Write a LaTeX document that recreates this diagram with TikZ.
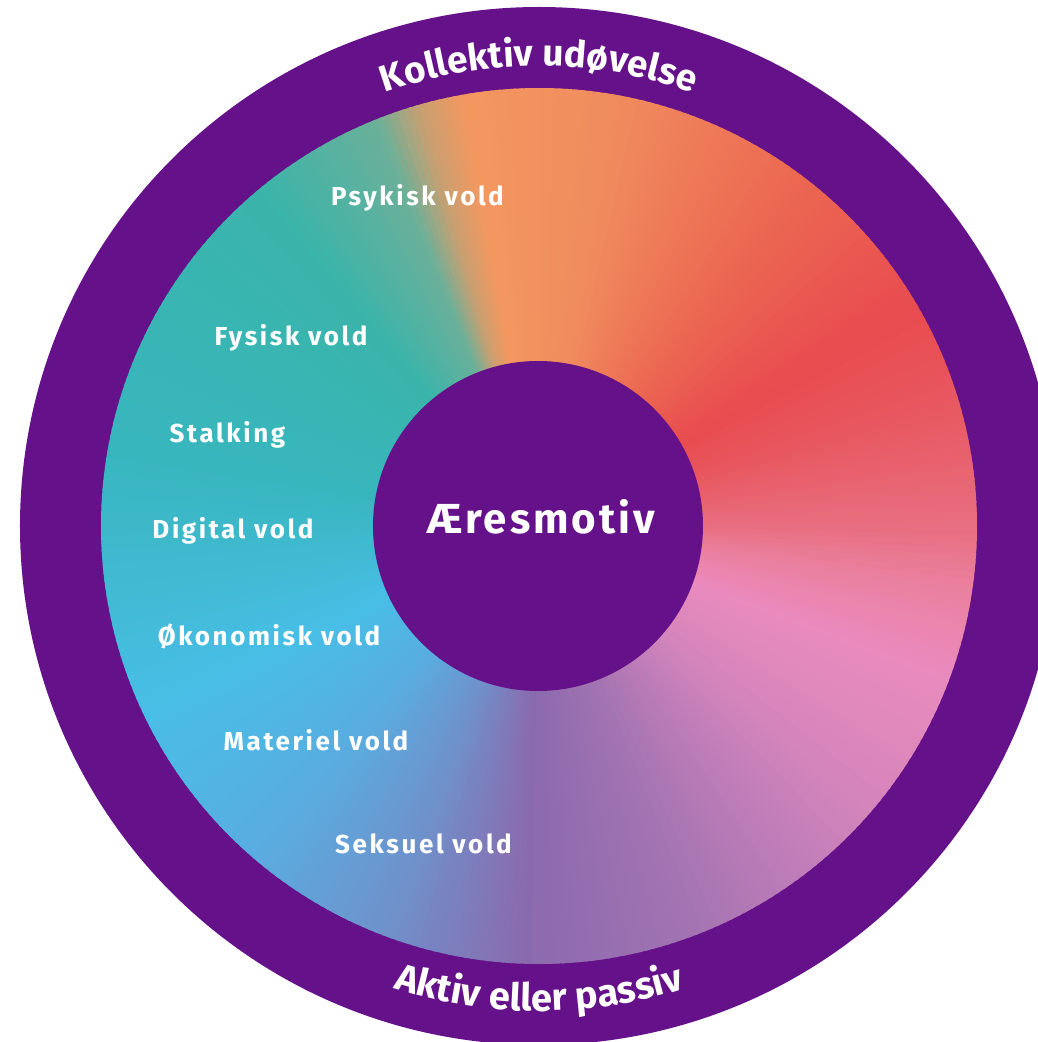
\documentclass[tikz,border=0pt]{standalone}
\usepackage{fontspec}
\setmainfont{Fira Sans}
\newfontfamily\labelfont[LetterSpace=10]{Fira Sans}
\newfontfamily\titlefont[LetterSpace=7]{Fira Sans}
\usetikzlibrary{decorations.text}
\definecolor{ringpurple}{HTML}{651189}
\definecolor{g0}{HTML}{E86E80}
\definecolor{g1}{HTML}{E85A62}
\definecolor{g2}{HTML}{E84B4F}
\definecolor{g3}{HTML}{EC6A52}
\definecolor{g4}{HTML}{F08C5E}
\definecolor{g5}{HTML}{F3975F}
\definecolor{g6}{HTML}{C8A072}
\definecolor{g7}{HTML}{6AB09A}
\definecolor{g8}{HTML}{3AB4AA}
\definecolor{g9}{HTML}{38B6BE}
\definecolor{g10}{HTML}{48BEE6}
\definecolor{g11}{HTML}{5AACE0}
\definecolor{g12}{HTML}{7090CA}
\definecolor{g13}{HTML}{8A6AAE}
\definecolor{g14}{HTML}{A273B2}
\definecolor{g15}{HTML}{D585BC}
\definecolor{g16}{HTML}{EA8BBD}
\definecolor{g17}{HTML}{EA7F9E}
\tikzset{
  vlabel/.style={anchor=base, text=white, font=\labelfont\bfseries\fontsize{26}{30}\selectfont, inner sep=0pt},
  centerlabel/.style={anchor=base, text=white, font=\titlefont\bfseries\fontsize{42}{48}\selectfont, inner sep=0pt},
  ringtext/.style 2 args={decorate, decoration={text along path, text align=center,
     text={|\bfseries\fontsize{#1}{40}\selectfont\color{white}|#2}}}
}
\begin{document}
\begin{tikzpicture}
\fill[white] (-539pt,-516pt) rectangle (499pt,526pt);
\useasboundingbox (-539pt,-516pt) rectangle (499pt,526pt);
\clip (-539pt,-516pt) rectangle (499pt,526pt);
\node[circle, fill=ringpurple, minimum size=1038pt, inner sep=0pt] (outer) at (0,0) {};
% conic gradient ring
\foreach \a/\b/\ca/\cb in {0/15/g0/g1, 15/30/g1/g2, 30/55/g2/g3, 55/80/g3/g4, 80/100/g4/g5,
  100/106/g5/g6, 106/112/g6/g7, 112/130/g7/g8, 130/170/g8/g9, 170/205/g9/g10,
  205/230/g10/g11, 230/250/g11/g12, 250/268/g12/g13, 268/290/g13/g14, 290/320/g14/g15,
  320/340/g15/g16, 340/352/g16/g17, 352/360/g17/g0}{
  \pgfmathtruncatemacro\n{\b-\a}
  \foreach \i in {1,...,\n}{
    \pgfmathsetmacro\p{100*(\i-0.5)/\n}
    \pgfmathsetmacro\s{\a+\i-1}
    \pgfmathsetmacro\e{\s+1.4}
    \fill[\cb!\p!\ca] (0,0) -- (\s:438pt) arc[start angle=\s, end angle=\e, radius=438pt] -- cycle;
  }
}
\node[circle, fill=ringpurple, minimum size=330pt, inner sep=0pt] (core) at (-1pt,0pt) {};
\node[centerlabel] (title) at (2pt,-7pt) {Æresmotiv};
% labels
\node[vlabel] (psy) at (-121.5pt,320pt) {Psykisk vold};
\node[vlabel] (fys) at (-248pt,180pt) {Fysisk vold};
\node[vlabel] (sta) at (-311.5pt,84pt) {Stalking};
\node[vlabel] (dig) at (-306pt,-12pt) {Digital vold};
\node[vlabel] (oko) at (-270pt,-119pt) {Økonomisk vold};
\node[vlabel] (mat) at (-223pt,-224pt) {Materiel vold};
\node[vlabel] (sek) at (-115.5pt,-327pt) {Seksuel vold};
% ring texts
\path[ringtext={37}{Kollektiv udøvelse}] (140:460pt) arc[start angle=140, end angle=40, radius=460pt];
\path[ringtext={38}{Aktiv eller passiv}] (220:485pt) arc[start angle=220, end angle=320, radius=485pt];
\end{tikzpicture}
\end{document}
